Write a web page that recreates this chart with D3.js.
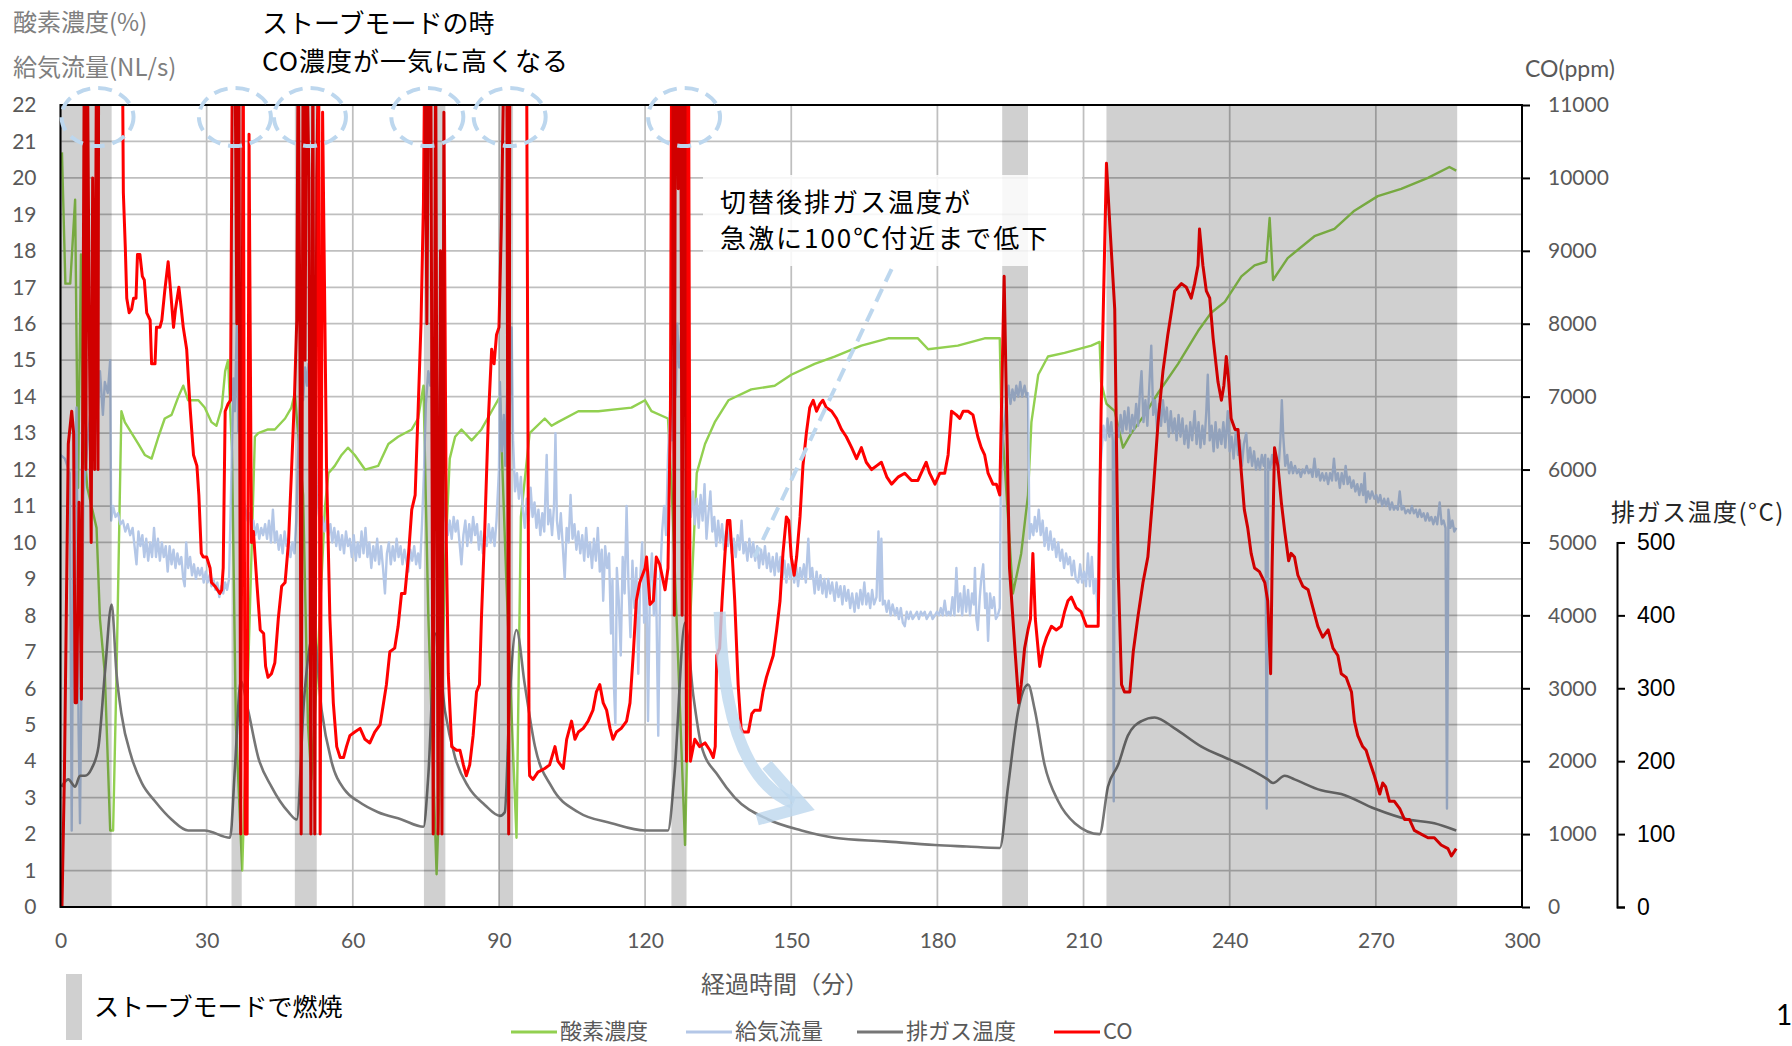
<!DOCTYPE html>
<html>
<head>
<meta charset="utf-8">
<script src="https://cdn.jsdelivr.net/npm/d3@7"></script>
<style>
  body { margin: 0; background: #fff; }
  text { font-family: "Lato", "Noto Sans CJK JP", sans-serif; }
  .jp { font-family: "Noto Sans CJK JP", sans-serif; }
</style>
</head>
<body>
<svg id="chart" width="1792" height="1046"></svg>
<script>
// ストーブモードで燃焼した区間 [開始分, 終了分]
const stoveMode = [[0, 10.5], [35.1, 37.2], [48.1, 52.6], [74.6, 79.0], [90.0, 92.9], [125.4, 128.5], [193.3, 198.6], [214.7, 286.7]];

// 酸素濃度 (%)  [分, 値]
const o2 = [[0.3,20.7],[1.0,17.1],[2.0,17.1],[3.0,19.4],[3.6,11.5],[4.2,17.9],[4.6,13],[5.5,11.5],[7.4,10.4],[8.1,7.9],[9.1,6.4],[10.2,2.1],[10.8,2.1],[11.5,6.4],[12.5,13.6],[13.2,13.3],[14.6,13.0],[16.0,12.7],[17.3,12.4],[18.7,12.3],[20.1,12.9],[21.4,13.4],[22.8,13.5],[24.2,14.0],[25.2,14.3],[26.2,13.9],[28.3,13.9],[29.6,13.7],[31.0,13.3],[32.0,13.2],[33.1,13.7],[33.8,14.7],[34.4,15.0],[35.2,12.5],[36.0,5],[37.3,1.0],[38.5,6.4],[39.9,12.9],[40.6,13.0],[42.6,13.1],[44.0,13.1],[46.1,13.4],[47.4,13.7],[48.1,14.1],[49.8,11.3],[50.8,5],[51.5,3.5],[52.5,6],[54.3,11.0],[55.0,11.9],[56.3,12.1],[57.7,12.4],[59.0,12.6],[60.4,12.4],[62.5,12.0],[65.2,12.1],[67.3,12.7],[69.3,12.9],[72.1,13.1],[73.4,13.4],[74.5,14.3],[75.5,8],[77.2,0.9],[78.0,4],[78.9,9.3],[79.9,12.3],[81.0,12.9],[82.3,13.1],[84.4,12.8],[86.4,13.1],[88.5,13.6],[90.2,14.0],[91.5,9],[93.6,1.9],[94.5,10.7],[96.3,13.0],[99.4,13.4],[100.8,13.2],[102.1,13.3],[106.3,13.6],[110.4,13.6],[117.2,13.7],[120,13.9],[121.3,13.6],[124.7,13.4],[125.6,11],[128.2,1.7],[129.3,8],[130.6,11.9],[132.3,12.7],[134.3,13.3],[137.1,13.9],[141.8,14.2],[146.6,14.3],[150,14.6],[154.8,14.9],[158.9,15.1],[164.4,15.4],[169.9,15.6],[176,15.6],[178.1,15.3],[184.2,15.4],[189.7,15.6],[192.8,15.6],[193.1,13.6],[195.5,8.6],[197.2,9.7],[198.6,11.3],[199.3,13.3],[200.7,14.6],[202.7,15.1],[206.1,15.2],[211.6,15.4],[213.3,15.5],[213.6,14.4],[214.7,13.8],[216.4,13.6],[218.1,12.6],[219.8,13.0],[222.5,13.5],[225.3,14.1],[229.4,14.9],[233.5,15.8],[236.2,16.3],[239,16.6],[242.4,17.3],[245.1,17.6],[247.5,17.7],[248.2,18.9],[248.9,17.2],[251.9,17.8],[257.4,18.4],[261.5,18.6],[265.6,19.1],[270.4,19.5],[275.2,19.7],[280.7,20.0],[285.1,20.3],[286.5,20.2]];

// 給気流量 (NL/s)
const airFlow = [[0,12.4],[0.9,12.3],[1.9,11.9],[2.3,2.1],[2.7,11],[3.3,13.7],[3.7,5],[4.0,2.3],[4.7,11.3],[5.7,13.0],[6.4,13.9],[7.4,13.0],[8.1,14.7],[8.7,13.5],[9.1,14.4],[9.7,14.1],[10.2,15.0],
[10.4,10.6],[10.8,11.0],[11.3,10.7],[11.8,10.8],[12.3,10.5],[12.8,10.6],[13.3,10.3],[13.8,10.5],[14.3,10.2],[14.8,10.4],[15.2,9.9],[15.6,9.4],[16.0,10.3],[16.4,9.9],[16.8,10.2],[17.2,9.6],[17.6,10.1],[18.0,9.5],[18.4,10.0],[18.8,9.6],[19.2,10.4],[19.6,9.6],[20.0,10.1],[20.4,9.5],[20.8,10.0],[21.2,9.6],[21.6,9.9],[22.0,9.2],[22.4,9.9],[22.8,9.4],[23.2,9.8],[23.6,9.3],[24.0,9.7],[24.4,9.4],[24.8,9.6],[25.2,9.0],[25.5,8.8],[25.8,10.0],[26.2,9.3],[26.6,9.6],[27.0,9.1],[27.4,9.4],[27.8,9.0],[28.2,9.3],[28.6,9.1],[29.0,9.3],[29.4,8.9],[29.8,9.2],[30.2,8.9],[30.6,9.1],[31.0,8.8],[31.4,9.0],[31.8,8.7],[32.2,8.9],[32.6,8.5],[33.0,8.8],[33.4,8.6],[33.8,8.9],[34.2,8.7],[34.6,9.0],
[35.1,12.0],[35.5,14.5],[35.8,13.6],[36.2,16.1],[36.5,13.0],[36.8,14.2],[37.2,12.1],[37.6,11.2],[38.0,10.9],[38.4,10.6],[38.8,10.8],[39.2,10.4],[39.6,10.6],[40.0,10.2],[40.4,10.5],[40.8,10.1],[41.2,10.4],[41.6,10.2],[42.0,10.5],[42.4,10.1],[42.8,10.6],[43.2,10.0],[43.6,10.9],[44.0,10.0],[44.4,10.3],[44.8,9.8],[45.2,10.2],[45.6,9.7],[46.0,10.3],[46.4,9.9],[46.8,10.1],[47.2,9.6],[47.6,10.0],[48.0,9.7],[48.4,10.6],
[48.8,12.5],[49.1,13.6],[49.5,14.6],[49.8,13.9],[50.2,14.8],[50.6,14.3],[50.9,14.9],[51.3,14.2],[51.7,14.6],[52.2,14.4],[52.6,11.6],[53.0,10.8],[53.4,10.4],[53.8,10.7],[54.2,10.3],[54.6,10.6],[55.0,10.2],[55.4,10.5],[55.8,10.0],[56.2,10.4],[56.6,9.9],[57.0,10.3],[57.4,9.8],[57.8,10.2],[58.2,9.7],[58.6,10.3],[59.0,9.9],[59.4,10.1],[59.8,9.6],[60.2,10.2],[60.6,9.5],[61.0,10.0],[61.4,9.6],[61.8,10.3],[62.2,9.7],[62.6,10.4],[63.0,9.6],[63.4,10.0],[63.8,9.3],[64.2,9.9],[64.6,9.5],[65.0,10.1],[65.4,9.4],[65.8,9.9],[66.2,9.3],[66.6,8.6],[67.0,9.7],[67.4,10.0],[67.8,9.4],[68.2,9.9],[68.6,9.5],[69.0,10.1],[69.4,9.6],[69.8,9.9],[70.2,9.4],[70.6,9.8],[71.0,9.5],[71.4,9.2],[71.8,9.8],[72.2,9.5],[72.6,9.9],[73.0,9.4],[73.4,9.7],[73.8,9.3],[74.2,10.5],
[74.6,11.9],[75.0,13.8],[75.5,14.7],[75.9,14.3],[76.3,15.1],[76.7,14.6],[77.1,14.9],[77.5,13.6],[77.9,12.4],[78.3,11.5],[78.7,11.0],[79.1,10.6],[79.5,10.2],[79.9,10.6],[80.3,10.1],[80.7,10.7],[81.1,10.3],[81.5,10.6],[81.9,10.0],[82.3,9.4],[82.7,10.2],[83.1,10.6],[83.5,9.9],[83.9,10.5],[84.3,10.0],[84.7,10.7],[85.1,10.2],[85.5,10.5],[85.9,9.8],[86.3,10.3],[86.7,9.7],[87.1,10.2],[87.5,9.9],[87.9,10.5],[88.3,10.0],[88.7,10.4],[89.1,9.9],[89.5,10.6],
[90.0,12.0],[90.2,14.4],[90.6,12.5],[91.0,13.5],[91.3,12.1],[91.7,14.2],[92.1,13.0],[92.6,15.9],[92.9,12.8],[93.3,11.4],[93.7,11.9],[94.1,11.2],[94.5,11.8],[94.9,10.9],[95.3,10.4],[95.7,11.2],[96.1,10.6],[96.5,11.5],[96.9,10.7],[97.3,11.1],[97.7,10.4],[98.1,10.9],[98.5,10.2],[98.9,10.8],[99.3,10.3],[99.8,12.4],[100.1,10.5],[100.5,10.9],[100.9,10.2],[101.3,11.0],[101.6,13.0],[101.9,10.6],[102.3,10.1],[102.7,10.8],[103.1,9.9],[103.5,9.0],[103.9,10.4],[104.3,10.0],[104.7,11.3],[105.1,10.1],[105.5,10.5],[105.9,9.8],[106.3,10.3],[106.7,9.7],[107.1,10.2],[107.5,9.5],[107.9,10.4],[108.3,9.6],[108.7,10.0],[109.1,9.3],[109.5,10.1],[109.9,9.5],[110.3,10.4],[110.7,9.2],[111.1,9.8],[111.4,8.4],[111.8,9.9],[112.2,9.3],[112.6,9.7],[113.0,7.5],[113.3,9.0],[113.6,6.1],[113.9,5.0],[114.2,9.3],[114.6,8.4],[115.0,6.9],[115.4,9.6],[115.8,8.6],[116.2,11.0],[116.6,8.8],[117.0,7.4],[117.4,9.5],[117.8,8.2],[118.2,9.3],[118.6,6.4],[119.0,9.0],[119.4,10.0],[119.8,7.8],[120.2,9.6],[120.6,5.1],[121.0,8.9],[121.4,9.7],[121.8,8.0],[122.2,9.4],[122.7,4.7],[123.1,9.1],[123.5,10.3],[123.9,11.0],[124.3,10.2],[124.7,12.4],
[125.1,13.6],[125.5,12.8],[125.9,15.0],[126.3,14.0],[126.6,16.0],[127.0,14.8],[127.4,15.7],[127.8,14.5],[128.2,14.1],[128.6,12.5],[129.0,11.2],[129.4,10.7],[129.8,11.4],[130.2,10.5],[130.6,11.2],[131.0,10.4],[131.4,11.3],[131.8,10.6],[132.2,11.6],[132.6,10.1],[133.0,10.8],[133.4,11.4],[133.8,10.3],[134.2,10.7],[134.6,9.9],[135.0,10.6],[135.4,10.0],[135.8,10.5],[136.2,9.8],[136.6,10.3],[137.0,9.9],[137.4,10.4],[137.8,9.7],[138.2,10.1],[138.6,9.6],[139.0,10.2],[139.4,9.8],[139.8,10.6],[140.2,9.7],[140.6,10.0],[141.0,9.5],[141.4,10.1],[141.8,9.6],[142.2,10.0],[142.6,9.5],[143.0,9.9],[143.4,9.3],[143.8,9.8],[144.2,9.4],[144.6,9.9],[145.0,9.3],[145.4,9.7],[145.8,9.2],[146.2,9.6],[146.6,9.1],[147.0,9.7],[147.4,9.2],[147.8,9.6],[148.2,9.0],[148.6,9.5],[149.0,8.9],[149.4,9.4],[149.8,9.0],[150.2,9.5],[150.6,8.9],[151.0,9.4],[151.4,8.8],[151.8,9.3],[152.2,9.0],[152.6,9.4],[153.0,8.9],[153.5,10.1],[153.9,9.0],[154.3,9.3],[154.8,8.6],[155.2,9.2],[155.6,8.7],[156.0,9.1],[156.4,8.6],[156.8,9.0],[157.2,8.5],[157.6,9.0],[158.0,8.6],[158.4,8.9],[158.9,8.4],[159.3,8.9],[159.7,8.5],[160.1,8.8],[160.5,8.3],[160.9,8.8],[161.3,8.4],[161.7,8.7],[162.1,8.2],[162.5,8.6],[163.0,8.1],[163.4,8.6],[163.8,8.2],[164.2,8.7],[164.6,8.3],[165.0,8.9],[165.4,8.3],[165.8,8.6],[166.2,8.2],[166.6,8.7],[167.0,8.3],[167.5,8.5],[167.9,10.3],[168.2,8.4],[168.5,10.1],[168.8,8.3],[169.2,8.4],[169.6,8.1],[170.0,8.4],[170.4,8.0],[170.8,8.3],[171.3,8.0],[171.7,8.2],[172.1,7.9],[172.5,8.2],[172.9,7.8],[173.3,7.7],[173.7,8.1],[174.1,7.9],[174.5,8.1],[174.9,7.9],[175.4,8.0],[175.8,8.1],[176.2,7.9],[176.6,8.1],[177.0,8.0],[177.4,8.1],[177.8,7.9],[178.2,8.0],[178.6,8.1],[179.0,7.9],[179.5,8.0],[179.9,8.1],[180.3,8.0],[180.7,8.2],[181.1,8.0],[181.5,8.4],[181.9,8.0],[182.3,8.1],[182.7,8.0],[183.1,8.5],[183.5,8.0],[183.9,9.3],[184.3,8.1],[184.7,8.6],[185.1,8.0],[185.5,8.8],[185.9,8.1],[186.3,8.7],[186.7,8.0],[187.1,8.6],[187.5,8.3],[187.7,9.3],[188.0,7.9],[188.3,7.6],[188.7,8.5],[189.0,9.0],[189.4,9.4],[189.8,8.2],[190.1,8.6],[190.4,7.3],[190.8,8.6],[191.2,8.2],[191.6,8.5],[192.0,7.9],[192.4,8.0],[192.8,8.2],
[193.0,11.3],[193.4,12.8],[193.8,13.3],[194.2,13.9],[194.6,14.3],[195.0,13.8],[195.4,14.2],[195.8,13.9],[196.2,14.3],[196.6,14.0],[197.0,14.4],[197.4,14.0],[197.9,14.3],[198.3,14.0],[198.6,14.1],[198.9,10.1],[199.3,10.5],[199.7,10.2],[200.0,10.7],[200.4,10.3],[200.8,10.9],[201.2,10.2],[201.6,10.6],[202.0,9.9],[202.4,10.4],[202.8,9.8],[203.2,10.3],[203.6,9.8],[204.0,10.1],[204.4,9.6],[204.8,10.0],[205.2,9.5],[205.6,9.8],[206.0,9.3],[206.4,9.7],[206.8,9.4],[207.2,9.6],[207.6,9.1],[208.0,9.5],[208.4,9.0],[208.9,8.9],[209.3,9.4],[209.7,8.9],[210.1,9.2],[210.5,8.8],[210.9,9.7],[211.3,8.8],[211.7,9.6],[212.1,8.6],[212.5,9.0],[212.9,8.1],
[213.3,11.7],[213.7,12.5],[214.1,13.2],[214.5,12.8],[214.9,13.4],[215.3,12.9],[215.7,13.3],[216.0,12.8],[216.2,2.9],[216.4,12.6],[216.8,13.2],[217.2,12.9],[217.6,13.5],[218.0,13.0],[218.4,13.6],[218.8,13.1],[219.2,13.7],[219.6,13.0],[220.0,13.5],[220.4,13.1],[220.8,13.8],[221.2,13.2],[221.6,14.2],[221.9,14.7],[222.3,13.3],[222.7,13.9],[223.1,13.2],[223.5,14.3],[223.9,15.4],[224.3,13.5],[224.7,13.9],[225.1,13.1],[225.5,13.8],[225.9,13.2],[226.3,13.9],[226.7,13.3],[227.1,13.7],[227.5,12.9],[227.9,13.6],[228.3,13.0],[228.7,13.4],[229.1,12.8],[229.5,13.5],[229.9,12.9],[230.3,13.4],[230.7,12.7],[231.1,13.2],[231.5,12.6],[231.9,13.3],[232.3,12.8],[232.8,13.6],[233.2,12.7],[233.6,13.3],[234.0,12.6],[234.4,13.2],[234.8,12.7],[235.2,13.6],[235.5,14.6],[235.9,12.8],[236.3,13.2],[236.7,12.5],[237.1,13.3],[237.5,12.6],[237.9,13.1],[238.3,12.7],[238.7,13.3],[239.1,12.6],[239.6,13.6],[240.0,12.5],[240.4,12.9],[240.8,12.3],[241.3,13.1],[241.7,12.4],[242.1,12.8],[242.5,12.1],[242.9,12.7],[243.4,13.0],[243.8,12.2],[244.2,12.6],[244.6,12.1],[245.0,12.5],[245.4,12.0],[245.8,12.3],[246.2,12.0],[246.6,12.4],[247.0,12.1],[247.3,12.4],[247.6,2.7],[247.9,12.3],[248.3,12.0],[248.7,12.4],[249.1,12.1],[249.6,12.3],[250.0,12.0],[250.4,12.8],[250.7,13.9],[251.0,12.9],[251.4,12.1],[251.8,12.4],[252.2,11.9],[252.6,12.2],[253.0,11.9],[253.4,12.1],[253.8,11.9],[254.2,12.0],[254.6,11.8],[255.0,12.0],[255.4,11.9],[255.8,12.1],[256.2,11.9],[256.6,12.0],[257.0,11.8],[257.4,12.3],[257.8,11.8],[258.2,12.0],[258.6,11.7],[259.0,11.9],[259.4,11.7],[259.8,11.9],[260.2,11.6],[260.6,11.9],[261.0,11.7],[261.4,12.3],[261.8,11.7],[262.2,11.9],[262.6,11.5],[263.0,11.9],[263.4,11.6],[263.8,12.1],[264.2,11.6],[264.6,11.8],[265.0,11.5],[265.4,11.7],[265.8,11.4],[266.2,11.6],[266.6,11.3],[267.0,11.6],[267.4,11.3],[267.7,11.9],[268.0,11.1],[268.4,11.4],[268.8,11.2],[269.2,11.4],[269.7,11.2],[270.1,11.3],[270.5,11.1],[270.9,11.3],[271.3,11.0],[271.7,11.2],[272.1,11.0],[272.5,11.2],[272.9,10.9],[273.3,11.1],[273.7,10.9],[274.1,11.0],[274.5,10.9],[274.9,11.4],[275.3,10.9],[275.7,11.0],[276.1,10.8],[276.6,10.9],[277.0,10.8],[277.4,11.0],[277.8,10.8],[278.2,10.9],[278.6,10.7],[279.0,10.9],[279.4,10.7],[279.8,10.8],[280.2,10.6],[280.6,10.8],[281.0,10.6],[281.4,10.7],[281.8,10.5],[282.2,10.7],[282.6,10.5],[283.1,11.1],[283.5,10.5],[283.9,10.6],[284.3,10.4],[284.6,2.7],[284.9,10.9],[285.3,10.4],[285.7,10.6],[286.1,10.3],[286.5,10.4]];

// 排ガス温度 (°C)
const exhaustTemp = [[0.2,165],[1.6,175],[3.0,165],[4.0,180],[5.0,180],[6.4,190],[7.8,220],[9.1,320],[10.5,415],[11.5,320],[12.5,265],[14.6,205],[16.7,170],[19.4,145],[22.8,120],[26.2,105],[29.6,105],[34.8,95],[35.8,190],[37.0,310],[38.5,270],[40.6,205],[43.3,165],[46.8,130],[48.5,120],[50.0,285],[52.0,375],[53.6,270],[55.6,200],[58.4,160],[61.1,145],[65.2,130],[70,120],[74.5,110],[75.5,180],[77.0,375],[78.9,270],[81,205],[83.7,165],[87.1,140],[90.2,125],[91.2,130],[92.2,285],[93.6,380],[95.3,305],[97.4,220],[100.8,165],[106.3,130],[113.1,115],[120,105],[124.7,105],[126,180],[128.2,390],[129.9,290],[131.6,220],[135,180],[138.4,150],[145.3,120],[152.1,105],[158.9,95],[169.2,90],[179.5,85],[186,83],[192.8,81],[194.5,165],[196.6,270],[198.6,305],[200,270],[202,195],[204.8,145],[208.2,115],[213.3,100],[215,165],[217.1,195],[219.1,235],[221.9,255],[224.6,260],[228.7,245],[234.2,220],[239,205],[242.4,195],[247.8,175],[248.9,170],[251.3,180],[253.3,175],[258.8,160],[262.9,155],[269.7,135],[276.6,120],[282,115],[286.5,105]];

// CO (ppm)  11000を超える値は枠外
const co = [[0.3,0],[0.8,1800],[1.6,6350],[2.3,6800],[2.7,6500],[3.0,2800],[3.3,2800],[3.8,5550],[4.3,2850],[4.9,12000],[5.2,6000],[5.5,12000],[5.9,8000],[6.3,5000],[6.6,10000],[7.0,6000],[7.4,12000],[7.7,6000],[7.9,15000],[12.4,15000],[12.9,9800],[13.3,9050],[13.6,8350],[14.1,8150],[14.6,8200],[15.0,8350],[15.5,8350],[15.8,8950],[16.3,8950],[16.8,8650],[17.2,8600],[17.7,8150],[18.4,8050],[18.7,7450],[19.4,7450],[19.7,7950],[20.4,7950],[20.8,8050],[21.4,8450],[22.1,8850],[22.6,8450],[23.2,7950],[23.6,8200],[24.3,8500],[24.8,8200],[25.2,7950],[25.9,7650],[26.6,6850],[27.3,6200],[28.0,6050],[28.4,5650],[28.9,4850],[29.3,4800],[30.0,4800],[30.7,4650],[31.0,4450],[31.7,4400],[32.7,4300],[33.1,4350],[33.4,4650],[33.8,6800],[34.4,6900],[34.9,6950],[35.3,12000],[35.8,12000],[36.2,8000],[36.6,12000],[37.0,1000],[37.5,12000],[37.9,1000],[38.3,1000],[38.7,10600],[39.2,5000],[39.6,5150],[40.3,4450],[41.0,3800],[41.7,3750],[42.1,3300],[42.6,3150],[43.3,3200],[44.0,3350],[44.7,3950],[45.4,4400],[46.1,4450],[46.8,5000],[47.4,5950],[48.0,6950],[48.5,8050],[48.8,12000],[49.2,7000],[49.4,1000],[49.8,12000],[50.2,7500],[50.5,12000],[51.0,10000],[51.4,1000],[51.8,12000],[52.2,1000],[52.6,10000],[53.0,12000],[53.3,1000],[53.8,10900],[54.6,6050],[55.3,3950],[56.0,2800],[56.7,2200],[57.4,2050],[58.1,2050],[58.7,2200],[59.4,2350],[60.4,2400],[61.5,2450],[62.5,2300],[63.5,2250],[64.5,2400],[65.6,2500],[66.2,2750],[66.9,3050],[67.6,3500],[68.6,3550],[69.3,3850],[70,4300],[70.7,4300],[71.4,4800],[72.1,5450],[72.8,5650],[73.4,6800],[74,8000],[74.5,9650],[74.8,12000],[75.2,8000],[75.6,12000],[76.0,12000],[76.5,1000],[77.0,12000],[77.5,1000],[78.0,9000],[78.3,1000],[78.7,10900],[79.2,5000],[79.6,3200],[80.3,2200],[81.3,2150],[82.0,2150],[82.7,1950],[83.3,1800],[84,1950],[84.7,2350],[85.4,2950],[86.0,3050],[86.4,3950],[87.1,5200],[87.8,6650],[88.5,7650],[89.0,7450],[89.5,7850],[90.0,7950],[90.5,9350],[91.1,12000],[91.6,12000],[92.0,1000],[92.3,15000],[95.5,15000],[96.2,2000],[96.3,1800],[97.0,1750],[98.0,1850],[99.4,1900],[100.4,1950],[101.5,2200],[102.1,2000],[103.2,1900],[103.9,2300],[104.9,2550],[105.6,2300],[106.3,2400],[107.3,2450],[108.3,2550],[109.3,2700],[110.0,2950],[110.7,3050],[111.4,2800],[112.1,2700],[112.8,2450],[113.4,2300],[114.1,2400],[115.1,2450],[116.2,2550],[116.9,2800],[117.6,3500],[118.2,4200],[118.9,4450],[120.0,4650],[120.3,4800],[121.0,4150],[121.7,4200],[122.3,4800],[123.0,4700],[124.1,4350],[124.7,4650],[125.2,6800],[125.6,15000],[126.0,4000],[126.3,15000],[126.8,9850],[127.2,15000],[127.6,4000],[128.0,15000],[128.5,2000],[128.8,15000],[129.3,2000],[130.2,2300],[131.2,2200],[132.3,2250],[133.3,2150],[134.0,2050],[134.4,2200],[134.7,3450],[135.3,3550],[135.8,4200],[136.4,4850],[136.9,5300],[137.4,5300],[137.9,4800],[138.4,4200],[139.1,3050],[139.7,2450],[140.1,2400],[141.2,2400],[141.9,2650],[142.5,2700],[143.6,2700],[144.2,2950],[144.9,3150],[145.6,3300],[146.3,3450],[147.0,3800],[147.7,4200],[148.3,4850],[149.0,5350],[149.5,5300],[150.0,4800],[150.6,4550],[151.1,4800],[151.8,5350],[152.4,6050],[153.1,6500],[153.8,6850],[154.5,6950],[155.2,6800],[155.9,6900],[156.5,6950],[157.2,6850],[158.3,6800],[159.3,6700],[160.3,6550],[161.3,6450],[162.4,6300],[163.4,6150],[164.4,6300],[165.4,6100],[166.5,6000],[167.5,6050],[168.5,6100],[169.6,5900],[170.6,5800],[172.0,5900],[173.3,5950],[174.7,5850],[176.0,5850],[177.0,6000],[177.7,6100],[178.4,5950],[179.5,5800],[180.5,5950],[181.5,5950],[182.2,6200],[182.9,6800],[183.9,6750],[184.6,6700],[185.3,6800],[186.3,6800],[187.3,6750],[188.3,6450],[189.0,6300],[189.7,6200],[190.4,5950],[191.4,5800],[192.1,5800],[192.8,5650],[193.3,7350],[193.7,8650],[194.2,6800],[194.8,4650],[195.9,3550],[196.7,2800],[197.2,3050],[197.9,3550],[198.6,3800],[199.1,3950],[199.6,4850],[200.1,3950],[201.0,3300],[201.7,3550],[202.4,3700],[203.4,3850],[204.4,3800],[205.4,3850],[206.1,4050],[206.8,4200],[207.5,4250],[208.5,4100],[209.5,4050],[210.6,3850],[211.6,3850],[213.0,3850],[213.6,6800],[214.7,10200],[215.4,9350],[216.4,8200],[217.1,4650],[217.8,3050],[218.4,2950],[219.5,2950],[220.2,3500],[221.2,4000],[222.2,4450],[223.2,4800],[224.3,5700],[225.3,6650],[226.3,7350],[227.3,7850],[228.7,8450],[230.1,8550],[231.1,8500],[232.1,8350],[232.8,8550],[233.5,8800],[233.8,9300],[234.5,8800],[235.2,8450],[235.9,8350],[236.6,7800],[237.6,7200],[238.3,6950],[238.8,7150],[239.3,7550],[239.8,7200],[240.3,6700],[241.1,6550],[241.7,6550],[242.4,5950],[243.0,5450],[243.7,5200],[244.4,4850],[245.1,4650],[246.1,4600],[247.2,4450],[247.8,4200],[248.4,3200],[248.7,4650],[249.2,6300],[249.9,6050],[250.6,5550],[251.3,5150],[252.1,4750],[252.6,4850],[253.3,4800],[254,4550],[255,4400],[256.1,4350],[257.1,4100],[258.1,3850],[259.1,3700],[260.2,3800],[261.2,3550],[262.2,3450],[262.9,3200],[263.9,3150],[265.0,2950],[265.6,2550],[266.3,2350],[267.3,2200],[268.0,2150],[268.7,2000],[269.7,1800],[270.8,1550],[271.4,1700],[272.0,1650],[272.8,1450],[273.8,1450],[274.9,1350],[275.9,1200],[276.9,1200],[277.9,1050],[279.3,1000],[280.7,950],[282,950],[283.4,850],[284.8,800],[285.5,700],[286.5,800]];

// 軸の目盛
const timeTicks = d3.range(0, 301, 30);
const leftTicks = d3.range(0, 23, 1);
const coTicks = d3.range(0, 11001, 1000);
const tempTicks = d3.range(0, 501, 100);

// COが急上昇した箇所 (分) に破線の丸
const spikeMarks = [7.6, 35.8, 51.2, 75.3, 92.2, 128];

const legendItems = [
  { name: "酸素濃度", color: "#92D050" },
  { name: "給気流量", color: "#B4C7E7" },
  { name: "排ガス温度", color: "#767676" },
  { name: "CO", color: "#FF0000" }
];

const svg = d3.select("#chart");
const plotL = 60.5, plotR = 1522, plotT = 105, plotB = 907;

const x = d3.scaleLinear().domain([0, 300]).range([plotL, plotR]);
const yL = d3.scaleLinear().domain([0, 22]).range([plotB, plotT]);
const yCO = d3.scaleLinear().domain([0, 11000]).range([plotB, plotT]);
const yT = d3.scaleLinear().domain([0, 500]).range([plotB, plotB - (plotB - plotT) * 500 / 1100]);

svg.append("defs").append("clipPath").attr("id", "plotClip")
  .append("rect").attr("x", plotL).attr("y", plotT).attr("width", plotR - plotL).attr("height", plotB - plotT);

// grid
const grid = svg.append("g");
grid.selectAll(".h").data(leftTicks).enter().append("line")
  .attr("x1", plotL).attr("x2", plotR)
  .attr("y1", d => yL(d)).attr("y2", d => yL(d))
  .attr("stroke", "#BFBFBF").attr("stroke-width", 1.75);
grid.selectAll(".v").data(timeTicks).enter().append("line")
  .attr("x1", d => x(d)).attr("x2", d => x(d))
  .attr("y1", plotT).attr("y2", plotB)
  .attr("stroke", "#BFBFBF").attr("stroke-width", 1.75);

// series
const plot = svg.append("g").attr("clip-path", "url(#plotClip)");
function addLine(data, yScale, color, width, curve) {
  const line = d3.line().x(d => x(d[0])).y(d => yScale(d[1])).curve(curve || d3.curveLinear);
  plot.append("path").datum(data)
    .attr("d", line)
    .attr("fill", "none")
    .attr("stroke", color)
    .attr("stroke-width", width)
    .attr("stroke-linejoin", "round");
}
addLine(o2, yL, "#92D050", 2.4);
addLine(airFlow, yL, "#B4C7E7", 2.4);
addLine(exhaustTemp, yT, "#767676", 2.6, d3.curveMonotoneX);
addLine(co, yCO, "#FF0000", 3);

// stove mode shading (over the lines)
svg.append("g").selectAll("rect").data(stoveMode).enter().append("rect")
  .attr("x", d => x(d[0])).attr("width", d => x(d[1]) - x(d[0]))
  .attr("y", plotT).attr("height", plotB - plotT)
  .attr("fill", "#000").attr("fill-opacity", 0.185);

// frame
svg.append("rect").attr("x", plotL).attr("y", plotT).attr("width", plotR - plotL).attr("height", plotB - plotT)
  .attr("fill", "none").attr("stroke", "#000").attr("stroke-width", 2);

// axes
const axisL = svg.append("g").attr("transform", `translate(${plotL},0)`)
  .call(d3.axisLeft(yL).tickValues(leftTicks).tickSize(0).tickPadding(24));
axisL.select(".domain").remove();
axisL.selectAll("text").attr("font-size", 21).attr("fill", "#595959").style("font-family", "Lato");

const axisB = svg.append("g").attr("transform", `translate(0,${plotB})`)
  .call(d3.axisBottom(x).tickValues(timeTicks).tickSize(0).tickPadding(26));
axisB.select(".domain").remove();
axisB.selectAll("text").attr("font-size", 21).attr("fill", "#595959").style("font-family", "Lato");

const axisCO = svg.append("g").attr("transform", `translate(${plotR},0)`)
  .call(d3.axisRight(yCO).tickValues(coTicks).tickFormat(d3.format("d")).tickSize(8).tickPadding(18));
axisCO.select(".domain").remove();
axisCO.selectAll("line").attr("stroke", "#000").attr("stroke-width", 2);
axisCO.selectAll("text").attr("font-size", 21).attr("fill", "#595959").style("font-family", "Lato");

const axisT = svg.append("g").attr("transform", "translate(1617,0)")
  .call(d3.axisRight(yT).tickValues(tempTicks).tickSize(8).tickSizeOuter(8).tickPadding(12));
axisT.select(".domain").attr("stroke", "#000").attr("stroke-width", 2);
axisT.selectAll("line").attr("stroke", "#000").attr("stroke-width", 2);
axisT.selectAll("text").attr("font-size", 23).attr("fill", "#000").style("font-family", "Liberation Sans");

// axis titles
svg.append("text").attr("class", "jp").attr("x", 13).attr("y", 31).attr("font-size", 24).attr("fill", "#7F7F7F").text("酸素濃度(%)");
svg.append("text").attr("class", "jp").attr("x", 13).attr("y", 76).attr("font-size", 24).attr("fill", "#7F7F7F").text("給気流量(NL/s)");
svg.append("text").attr("x", 1525).attr("y", 77).attr("font-size", 23).attr("fill", "#595959").text("CO(ppm)");
svg.append("text").attr("class", "jp").attr("x", 1611).attr("y", 521).attr("font-size", 24)
  .attr("letter-spacing", 1.5).attr("fill", "#262626").text("排ガス温度(°C)");
svg.append("text").attr("class", "jp").attr("x", 785).attr("y", 993).attr("text-anchor", "middle")
  .attr("font-size", 24).attr("fill", "#595959").text("経過時間（分）");

// legend
const legend = svg.append("g");
const legendX = [511, 686, 857, 1054];
legendItems.forEach((d, i) => {
  legend.append("line").attr("x1", legendX[i]).attr("x2", legendX[i] + 46)
    .attr("y1", 1032).attr("y2", 1032).attr("stroke", d.color).attr("stroke-width", 3);
  legend.append("text").attr("class", "jp").attr("x", legendX[i] + 49).attr("y", 1039)
    .attr("font-size", 22).attr("fill", "#595959").text(d.name);
});

// stove legend
svg.append("rect").attr("x", 66).attr("y", 974).attr("width", 16).attr("height", 66).attr("fill", "#D0D0D0");
svg.append("text").attr("class", "jp").attr("x", 94).attr("y", 1016).attr("font-size", 25).attr("fill", "#000").text("ストーブモードで燃焼");

// annotation: top
svg.append("text").attr("class", "jp").attr("x", 262).attr("y", 33).attr("font-size", 26).attr("fill", "#000").text("ストーブモードの時");
svg.append("text").attr("class", "jp").attr("x", 262).attr("y", 71).attr("font-size", 26)
  .attr("letter-spacing", 1).attr("fill", "#000").text("CO濃度が一気に高くなる");

// dashed ellipses around CO spikes
svg.append("g").selectAll("ellipse").data(spikeMarks).enter().append("ellipse")
  .attr("cx", d => x(d)).attr("cy", yL(21.67)).attr("rx", 36).attr("ry", 29)
  .attr("fill", "none").attr("stroke", "#BDD7EE").attr("stroke-width", 4).attr("stroke-dasharray", "14,8");

// annotation: exhaust temperature
svg.append("rect").attr("x", 703).attr("y", 175).attr("width", 379).attr("height", 91)
  .attr("fill", "#fff").attr("fill-opacity", 0.85);
svg.append("text").attr("class", "jp").attr("x", 720).attr("y", 212).attr("font-size", 26)
  .attr("letter-spacing", 2).attr("fill", "#000").text("切替後排ガス温度が");
svg.append("text").attr("class", "jp").attr("x", 720).attr("y", 248).attr("font-size", 26)
  .attr("letter-spacing", 2).attr("fill", "#000").text("急激に100℃付近まで低下");

svg.append("line")
  .attr("x1", x(170.6)).attr("y1", yL(17.5)).attr("x2", x(142.5)).attr("y2", yL(9.6))
  .attr("stroke", "#BDD7EE").attr("stroke-width", 4).attr("stroke-dasharray", "14,8");

svg.append("path")
  .attr("d", `M${x(135.3)},${yL(8.1)} Q${x(136.2)},${yL(3.6)} ${x(150.5)},${yL(2.85)}`)
  .attr("fill", "none").attr("stroke", "#BDD7EE").attr("stroke-opacity", 0.8).attr("stroke-width", 12);
svg.append("path")
  .attr("d", `M${x(145)},${yL(3.9)} L${x(152.6)},${yL(2.75)} L${x(143)},${yL(2.4)}`)
  .attr("fill", "none").attr("stroke", "#BDD7EE").attr("stroke-opacity", 0.8).attr("stroke-width", 12)
  .attr("stroke-linejoin", "miter");

// page number
svg.append("text").attr("x", 1776).attr("y", 1025).attr("font-size", 28).attr("fill", "#000").text("1");
</script>
</body>
</html>
